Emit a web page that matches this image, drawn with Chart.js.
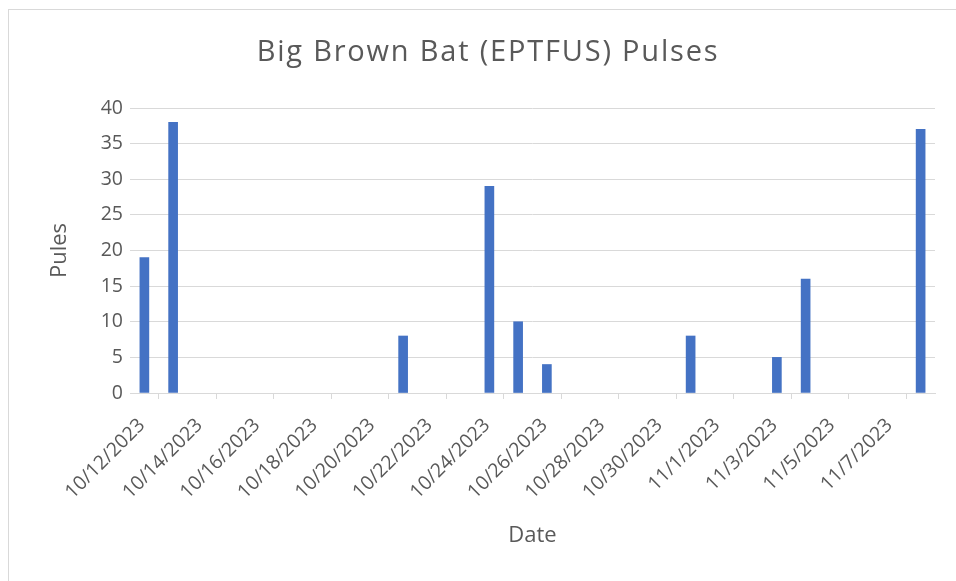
<!DOCTYPE html>
<html>
<head>
<meta charset="utf-8">
<script src="https://cdn.jsdelivr.net/npm/chart.js@4.4.1/dist/chart.umd.min.js"></script>
<style>
  html, body { margin: 0; padding: 0; background: #ffffff; overflow: hidden; }
  #wrap { position: relative; width: 956px; height: 581px; }
  #frame { position: absolute; left: 8px; top: 9px; width: 1000px; height: 700px; border: 1px solid #d9d9d9; box-sizing: border-box; }
  canvas { position: absolute; left: 0; top: 0; }
</style>
</head>
<body>
<div id="wrap">
  <div id="frame"></div>
  <canvas id="c" width="956" height="581"></canvas>
</div>
<script>
const chartTitle = 'Big Brown Bat (EPTFUS) Pulses';
const xTitle = 'Date';
const yTitle = 'Pules';

const dates = [
  '10/12/2023', '10/13/2023', '10/14/2023', '10/15/2023', '10/16/2023', '10/17/2023', '10/18/2023',
  '10/19/2023', '10/20/2023', '10/21/2023', '10/22/2023', '10/23/2023', '10/24/2023', '10/25/2023',
  '10/26/2023', '10/27/2023', '10/28/2023', '10/29/2023', '10/30/2023', '10/31/2023', '11/1/2023',
  '11/2/2023', '11/3/2023', '11/4/2023', '11/5/2023', '11/6/2023', '11/7/2023', '11/8/2023'
];
const pulses = [
  19, 38, 0, 0, 0, 0, 0,
  0, 0, 8, 0, 0, 29, 10,
  4, 0, 0, 0, 0, 8, 0,
  0, 5, 16, 0, 0, 0, 37
];
const yTicks = [0, 5, 10, 15, 20, 25, 30, 35, 40];

const textColor = '#595959';
const gridColor = '#d9d9d9';
const fontFamily = '"Open Sans", Lato, sans-serif';

// each day occupies one unit on the x scale; the bar sits in the middle of its day
// (days with no pulses draw no bar)
const points = dates
  .map((d, i) => ({ x: i + 0.5, y: pulses[i] }))
  .filter(p => p.y > 0);

// slightly wider letter spacing for the chart title
const titleSpacing = {
  id: 'titleSpacing',
  afterLayout(chart) {
    const tb = chart.titleBlock;
    if (tb && !tb._spaced) {
      const orig = tb.draw.bind(tb);
      tb.draw = function (...args) {
        const ctx = chart.ctx;
        const prev = ctx.letterSpacing;
        ctx.letterSpacing = '1.8px';
        orig(...args);
        ctx.letterSpacing = prev || '0px';
      };
      tb._spaced = true;
    }
  }
};

new Chart(document.getElementById('c'), {
  type: 'bar',
  data: {
    datasets: [{
      label: 'Pulses',
      data: points,
      backgroundColor: '#4472C4',
      borderWidth: 0,
      barThickness: 9
    }]
  },
  plugins: [titleSpacing],
  options: {
    responsive: false,
    animation: false,
    layout: { padding: { left: 41, right: 21, top: 0, bottom: 0 } },
    plugins: {
      legend: { display: false },
      tooltip: { enabled: false },
      title: {
        display: true,
        text: chartTitle,
        color: textColor,
        font: { family: fontFamily, size: 29, weight: 'normal', lineHeight: 1.2 },
        padding: { top: 35, bottom: 38.2 }
      }
    },
    scales: {
      x: {
        type: 'linear',
        min: 0,
        max: dates.length,
        offset: false,
        afterBuildTicks: (scale) => {
          const t = [];
          for (let v = 0; v <= dates.length; v += 2) t.push({ value: v });
          scale.ticks = t;
        },
        afterFit: (scale) => {
          scale.height = 188;
          scale.paddingLeft = 0;
          scale.paddingRight = 0;
        },
        ticks: {
          autoSkip: false,
          maxRotation: 45,
          minRotation: 45,
          padding: 15,
          labelOffset: 12,
          color: textColor,
          font: { family: fontFamily, size: 19.5 },
          callback: (v) => (v < dates.length ? dates[v] : '')
        },
        grid: {
          display: true,
          drawOnChartArea: false,
          drawTicks: true,
          tickLength: 6,
          color: gridColor,
          lineWidth: 1
        },
        border: { display: true, color: gridColor, width: 1 },
        title: {
          display: true,
          text: xTitle,
          color: textColor,
          font: { family: fontFamily, size: 22, lineHeight: 1.2 },
          padding: { top: 0, bottom: 32 }
        }
      },
      y: {
        min: 0,
        max: 40,
        afterBuildTicks: (scale) => { scale.ticks = yTicks.map(v => ({ value: v })); },
        afterFit: (scale) => { scale.width = 89; },
        ticks: {
          padding: 7,
          color: textColor,
          font: { family: fontFamily, size: 19.5 }
        },
        grid: { color: gridColor, lineWidth: 1, drawTicks: false },
        border: { display: false },
        title: {
          display: true,
          text: yTitle,
          color: textColor,
          font: { family: fontFamily, size: 22, lineHeight: 1.2 },
          padding: { top: 6, bottom: 0 }
        }
      }
    }
  }
});
</script>
</body>
</html>
